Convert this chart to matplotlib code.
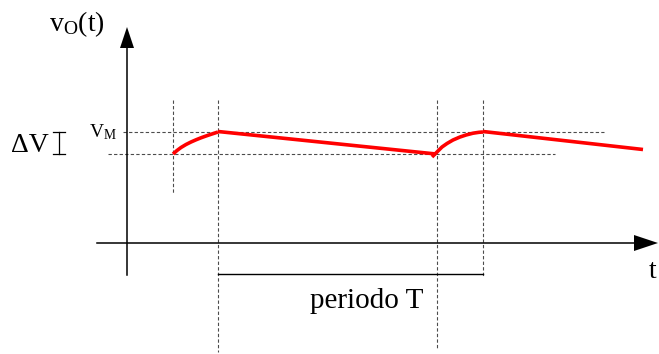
import numpy as np
import matplotlib.pyplot as plt

plt.rcParams['font.family'] = ['Liberation Serif', 'DejaVu Serif']
plt.rcParams['mathtext.fontset'] = 'custom'
plt.rcParams['mathtext.rm'] = 'Liberation Serif'
plt.rcParams['mathtext.it'] = 'Liberation Serif'

# Drawing units: x grows to the right, y grows downwards (canvas 659 x 354)
# Rectified output ripple: charge arc, linear discharge, charge arc, discharge
carga1_x = [173, 177, 181, 186, 191, 196, 201, 206, 211, 215, 218]
carga1_y = [154, 150.5, 147.5, 144.5, 142, 139.8, 137.8, 136, 134.3, 133, 132]
descarga1_x = [218, 436]
descarga1_y = [131.5, 154]
carga2_x = [432, 437, 442, 447, 453, 460, 466, 473, 479, 483]
carga2_y = [157, 152, 147, 143.5, 140, 137, 135, 133.2, 132.3, 132]
descarga2_x = [483, 643]
descarga2_y = [131.5, 149.5]

nivel_max = 132   # V_M
nivel_min = 154   # V_M - dV
inicio_carga = [173, 437]
fin_carga = [218, 483]

fig = plt.figure(figsize=(6.59, 3.54), dpi=100)
ax = fig.add_axes([0, 0, 1, 1])
ax.set_xlim(0, 659)
ax.set_ylim(354, 0)
ax.axis('off')

guia = dict(color='black', lw=0.8, ls=(0, (3, 2)), alpha=0.7)

# horizontal reference levels
ax.plot([123, 604], [nivel_max, nivel_max], **guia)
ax.plot([108, 555], [nivel_min, nivel_min], **guia)

# vertical guides at start/end of each charging interval
ax.plot([inicio_carga[0]] * 2, [100, 194], **guia)
ax.plot([fin_carga[0]] * 2, [100, 352], **guia)
ax.plot([inicio_carga[1]] * 2, [100, 350], **guia)
ax.plot([fin_carga[1]] * 2, [100, 276], **guia)

# axes with arrow heads
ax.plot([127, 127], [275, 46], color='black', lw=1.1)
ax.fill([120, 134, 127], [48, 48, 27], color='black', lw=0)
ax.plot([97, 636], [243, 243], color='black', lw=1.1)
ax.fill([634, 634, 658], [235, 251, 243], color='black', lw=0)

# period marker
ax.plot([218, 483], [274, 274], color='black', lw=1.0)

# delta V bracket
ax.plot([59, 59], [132, 154], color='black', lw=0.9)
ax.plot([53, 65], [132, 132], color='black', lw=0.9)
ax.plot([53, 65], [154, 154], color='black', lw=0.9)

# output voltage waveform
rojo = dict(color='red', lw=2.6, solid_capstyle='butt', solid_joinstyle='round')
ax.plot(carga1_x, carga1_y, **rojo)
ax.plot(descarga1_x, descarga1_y, **rojo)
ax.plot(carga2_x, carga2_y, **rojo)
ax.plot(descarga2_x, descarga2_y, **rojo)

# labels
ax.text(49, 31, r'$\mathrm{v_O(t)}$', fontsize=20, va='baseline', ha='left')
ax.text(89, 137, r'$\mathrm{V_M}$', fontsize=14, va='baseline', ha='left')
ax.text(11, 152, 'ΔV', fontsize=20, va='baseline', ha='left')
ax.text(367, 308, 'periodo T', fontsize=21, va='baseline', ha='center')
ax.text(649, 278, 't', fontsize=20, va='baseline', ha='left')

fig.savefig('out.png', dpi=100)
